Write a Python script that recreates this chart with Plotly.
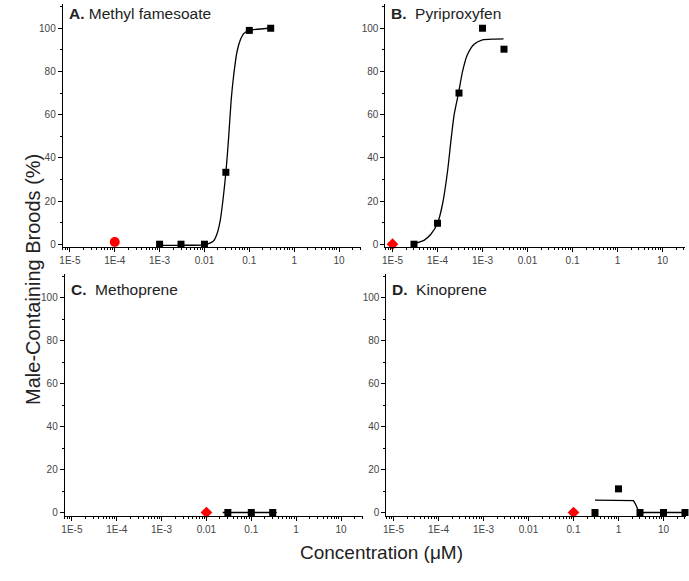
import plotly.graph_objects as go

# ---- data ----
# A. Methyl farnesoate
a_conc = [0.001, 0.003, 0.01, 0.03, 0.1, 0.3]
a_male = [0, 0, 0, 33.3, 99, 100]
a_ctrl_conc = [1e-4]
a_ctrl_male = [1.0]
a_fit_conc = [0.001, 0.003, 0.01, 0.0123, 0.0159, 0.0189, 0.0224, 0.0257, 0.030,
              0.0345, 0.0395, 0.0447, 0.053, 0.063, 0.075, 0.1, 0.3]
a_fit_male = [-0.5, -0.5, -0.3, 0.3, 1.5, 4.6, 10.8, 20, 33, 49, 67, 78, 89,
              94.5, 97.5, 99, 100]

# B. Pyriproxyfen
b_conc = [3e-5, 1e-4, 3e-4, 1e-3, 3e-3]
b_male = [0, 9.7, 70, 100, 90.3]
b_ctrl_conc = [1e-5]
b_ctrl_male = [0]
b_fit_conc = [3e-5, 5.0e-5, 7.1e-5, 1e-4, 1.29e-4, 1.67e-4, 1.98e-4, 2.34e-4,
              2.93e-4, 3.6e-4, 4.6e-4, 6.5e-4, 1e-3, 1.8e-3, 2.93e-3]
b_fit_male = [0.3, 1.8, 4.6, 9.7, 18.5, 33.8, 47.7, 60, 70, 80, 87.7, 92.6,
              94.6, 95, 95.1]

# C. Methoprene
c_conc = [0.03, 0.1, 0.3]
c_male = [0, 0, 0]
c_ctrl_conc = [0.01]
c_ctrl_male = [0]
c_fit_conc = [0.023, 0.37]
c_fit_male = [0, 0]

# D. Kinoprene
d_conc = [0.3, 1, 3, 10, 30]
d_male = [0, 11, 0, 0, 0]
d_ctrl_conc = [0.1]
d_ctrl_male = [0]
d_fit_conc = [0.3, 1.9, 2.15, 2.4, 2.6, 2.8, 3, 30]
d_fit_male = [5.8, 5.8, 5.5, 3.8, 1.6, 0.4, 0, 0]

panels = [
    ('A.', 'Methyl famesoate', a_conc, a_male, a_ctrl_conc, a_ctrl_male, a_fit_conc, a_fit_male, 'circle', 10, 'spline'),
    ('B.', ' Pyriproxyfen', b_conc, b_male, b_ctrl_conc, b_ctrl_male, b_fit_conc, b_fit_male, 'diamond', 9, 'spline'),
    ('C.', ' Methoprene', c_conc, c_male, c_ctrl_conc, c_ctrl_male, c_fit_conc, c_fit_male, 'diamond', 9, 'linear'),
    ('D.', ' Kinoprene', d_conc, d_male, d_ctrl_conc, d_ctrl_male, d_fit_conc, d_fit_male, 'diamond', 9, 'linear'),
]

x_tickvals = [1e-5, 1e-4, 1e-3, 0.01, 0.1, 1, 10]
x_ticktext = ['1E-5', '1E-4', '1E-3', '0.01', '0.1', '1', '10']
y_tickvals = [0, 20, 40, 60, 80, 100]
x_minor = [m * 10 ** e for e in range(-6, 2) for m in range(2, 10)]

W, H = 689, 581
# pixel boxes: (left, right, top, bottom) and y range top
boxes = [(60, 360, 4.5, 248.3, 111), (384, 685, 4.5, 248.3, 111),
         (62, 362, 275, 517.5, 111), (385, 686, 275, 517.5, 111)]

FONT = 'Arial, Liberation Sans, sans-serif'
fig = go.Figure()


def px_x(p):
    return p / W


def px_y(p):
    return 1 - p / H


for i, (letter, name, xs, ys, cx, cy, fx, fy, csym, csize, shape) in enumerate(panels):
    n = '' if i == 0 else str(i + 1)
    nm = str(i + 5)
    xa, ya = 'x' + n, 'y' + n
    line = dict(color='black', width=1.3, shape=shape)
    if shape == 'spline':
        line['smoothing'] = 0.6
    fig.add_trace(go.Scatter(x=fx, y=fy, mode='lines', line=line,
                             xaxis=xa, yaxis=ya, showlegend=False, hoverinfo='skip'))
    fig.add_trace(go.Scatter(x=xs, y=ys, mode='markers', marker=dict(symbol='square', size=7, color='black'),
                             xaxis=xa, yaxis=ya, showlegend=False, cliponaxis=False))
    fig.add_trace(go.Scatter(x=cx, y=cy, mode='markers', marker=dict(symbol=csym, size=csize, color='#ff0000'),
                             xaxis=xa, yaxis=ya, showlegend=False, cliponaxis=False))

    l, r, t, b, ytop = boxes[i]
    axis_common = dict(showline=True, linecolor='black', linewidth=1, showgrid=False, zeroline=False,
                       ticks='outside', tickcolor='black', ticklen=4,
                       tickfont=dict(family=FONT, size=10, color='#444'))
    fig.layout['xaxis' + n] = dict(axis_common, type='log', range=[-5.16, 1.5],
                                   domain=[px_x(l), px_x(r)], anchor=ya,
                                   tickvals=x_tickvals, ticktext=x_ticktext)
    # extra axis for the minor log ticks
    fig.layout['xaxis' + nm] = dict(type='log', range=[-5.16, 1.5], overlaying=xa, anchor=ya, side='bottom',
                                    domain=[px_x(l), px_x(r)], showgrid=False, zeroline=False, showline=False,
                                    tickvals=x_minor, showticklabels=False, ticks='outside', ticklen=2,
                                    tickcolor='black')
    fig.layout['yaxis' + n] = dict(axis_common, range=[-1.5, ytop],
                                   domain=[px_y(b), px_y(t)], anchor=xa,
                                   tickvals=y_tickvals,
                                   minor=dict(dtick=10, ticks='outside', ticklen=2, tickcolor='black'))
    # dummy trace so the minor-tick axis is drawn
    fig.add_trace(go.Scatter(x=[1], y=[None], xaxis='x' + nm, yaxis=ya, showlegend=False, hoverinfo='skip'))
    ty = 14 if i < 2 else 291
    fig.add_annotation(x=px_x(l + 4), y=px_y(ty), xref='paper', yref='paper',
                       xanchor='left', yanchor='middle', showarrow=False,
                       text='<b>' + letter + '</b> ' + name,
                       font=dict(family=FONT, size=15.5, color='#222'))

fig.add_annotation(x=px_x(17), y=px_y(280), xref='paper', yref='paper', textangle=-90,
                   showarrow=False, text='Male-Containing Broods (%)',
                   font=dict(family=FONT, size=20, color='#222'))
fig.add_annotation(x=px_x(380), y=px_y(567), xref='paper', yref='paper',
                   showarrow=False, text='Concentration (\u03bcM)',
                   font=dict(family=FONT, size=19, color='#222'))

fig.update_layout(width=W, height=H, margin=dict(l=0, r=0, t=0, b=0),
                  plot_bgcolor='white', paper_bgcolor='white')

# drop the browser's default 8px page margin so the figure fills the window
fig.write_html("out.html", config={'displayModeBar': False},
               post_script="document.body.style.margin='0';document.body.style.overflow='hidden';")
